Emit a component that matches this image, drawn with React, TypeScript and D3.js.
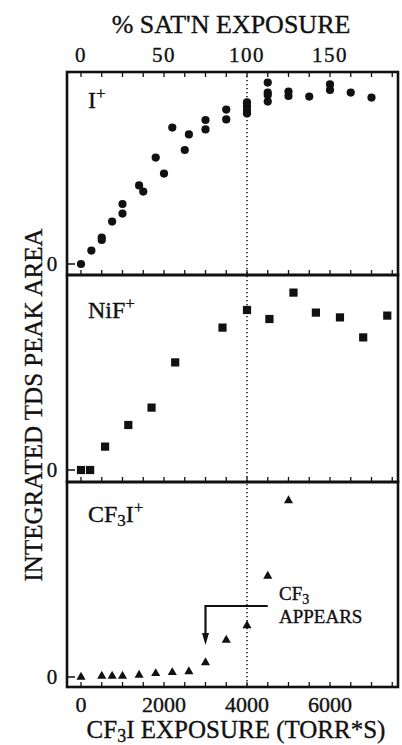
import React from "react";
import * as d3 from "d3";

// ---- Data ----
const iExposure = [0, 250, 500, 500, 750, 1000, 1000, 1400, 1500, 1800, 2000, 2200, 2500, 2600, 3000, 3000, 3500, 3500, 4000, 4000, 4000, 4000, 4500, 4500, 4500, 4500, 5000, 5000, 5500, 6000, 6000, 6500, 7000];
const iArea = [0.0, 0.67, 1.32, 1.2, 2.12, 3.0, 2.52, 3.93, 3.62, 5.32, 4.52, 6.82, 5.7, 6.48, 7.2, 6.73, 7.72, 7.23, 8.08, 7.87, 7.67, 7.53, 9.07, 8.57, 8.45, 8.12, 8.62, 8.4, 8.37, 8.98, 8.7, 8.57, 8.32];

const nifExposure = [0, 220, 580, 1140, 1700, 2270, 3410, 4000, 4540, 5120, 5660, 6240, 6800, 7380];
const nifArea = [0, 0, 1.17, 2.25, 3.12, 5.38, 7.12, 8.0, 7.55, 8.87, 7.87, 7.63, 6.63, 7.72];

const cf3iExposure = [0, 500, 750, 1000, 1400, 1800, 2200, 2600, 3000, 3500, 4000, 4500, 5000];
const cf3iArea = [0.0, 0.05, 0.05, 0.05, 0.1, 0.18, 0.23, 0.27, 0.72, 1.85, 2.57, 5.05, 8.82];

const bottomTickLabels = [0, 2000, 4000, 6000];
const topTickLabels = [0, 50, 100, 150];
const minorTicks = d3.range(0, 7501, 500);
const saturationExposure = 4000; // 100 % saturation
const annotation = { x0: 3000, x1: 4500, y: 3.55, tipY: 1.6, textX: 4770 };

const FONT = "'Liberation Serif', 'Times New Roman', 'DejaVu Serif', serif";

const W = 402, H = 745;
const left = 67, right = 398;
const panels = [
  { top: 72, bottom: 275, zero: 264, label: "I", sub: "", after: "", marker: "circle", xs: iExposure, ys: iArea, labelY: 108 },
  { top: 275, bottom: 482, zero: 470, label: "NiF", sub: "", after: "", marker: "square", xs: nifExposure, ys: nifArea, labelY: 318 },
  { top: 482, bottom: 687, zero: 677, label: "CF", sub: "3", after: "I", marker: "triangle", xs: cf3iExposure, ys: cf3iArea, labelY: 522 },
];

export default function App() {
  const x = d3.scaleLinear().domain([0, 4000]).range([81, 247]);
  const xTop = d3.scaleLinear().domain([0, 100]).range([81, 247]);
  const tri = d3.symbol(d3.symbolTriangle, 36)();
  const txt = { fill: "#111", stroke: "#111", strokeWidth: 0.35 } as const;

  return (
    <svg width={W} height={H} style={{ position: "absolute", left: 0, top: 0, background: "#fff", fontFamily: FONT }}>
      <rect x={0} y={0} width={W} height={H} fill="#fff" />
      {/* top axis title */}
      <text x={231} y={33} fontSize={26} textAnchor="middle" {...txt}>% SAT'N EXPOSURE</text>
      {topTickLabels.map((t) => (
        <text key={"tt" + t} x={xTop(t)} y={62} fontSize={21} textAnchor="middle" letterSpacing={1.5} {...txt}>{t}</text>
      ))}
      {/* y title */}
      <text transform={`translate(42,405) rotate(-90)`} fontSize={25} textAnchor="middle" {...txt}>INTEGRATED TDS PEAK AREA</text>

      {/* dotted line at 100% saturation */}
      <line x1={x(saturationExposure)} x2={x(saturationExposure)} y1={72} y2={688} stroke="#111" strokeWidth={1.5} strokeDasharray="1.3,2.7" />

      {panels.map((p, pi) => {
        const y = d3.scaleLinear().domain([0, 10]).range([p.zero, p.zero - 200]);
        return (
          <g key={pi}>
            {minorTicks.map((t) => (
              <line key={"b" + t} x1={x(t)} x2={x(t)} y1={p.bottom} y2={p.bottom - 5} stroke="#111" strokeWidth={1.3} />
            ))}
            {pi === 0 && minorTicks.map((t) => (
              <line key={"t" + t} x1={x(t)} x2={x(t)} y1={p.top} y2={p.top + 5} stroke="#111" strokeWidth={1.3} />
            ))}
            <line x1={left} x2={left + 8} y1={y(0)} y2={y(0)} stroke="#111" strokeWidth={1.5} />
            <text x={52} y={y(0) + 7} fontSize={21} textAnchor="middle" {...txt}>0</text>
            <text x={88} y={p.labelY} fontSize={24} {...txt}>
              {p.label}
              {p.sub && <tspan fontSize={17} dy={4}>{p.sub}</tspan>}
              {p.after && <tspan fontSize={24} dy={p.sub ? -4 : 0}>{p.after}</tspan>}
              <tspan fontSize={17} dy={-9}>+</tspan>
            </text>
            {p.xs.map((xv, i) => {
              const cx = x(xv), cy = y(p.ys[i]);
              if (p.marker === "circle") return <circle key={i} cx={cx} cy={cy} r={4.1} fill="#111" />;
              if (p.marker === "square") return <rect key={i} x={cx - 4.1} y={cy - 4.1} width={8.2} height={8.2} fill="#111" />;
              return <path key={i} d={tri as string} transform={`translate(${cx},${cy})`} fill="#111" />;
            })}
            <rect x={left} y={p.top} width={right - left} height={p.bottom - p.top} fill="none" stroke="#111" strokeWidth={2.6} />
          </g>
        );
      })}

      {/* annotation */}
      {(() => {
        const y3 = d3.scaleLinear().domain([0, 10]).range([677, 477]);
        const ax0 = x(annotation.x0), ax1 = x(annotation.x1), ay = y3(annotation.y), tip = y3(annotation.tipY);
        return (
          <g>
            <path d={`M${ax1},${ay} H${ax0} V${tip - 10}`} fill="none" stroke="#111" strokeWidth={2.2} />
            <path d={`M${ax0 - 3.5},${tip - 12} L${ax0 + 3.5},${tip - 12} L${ax0},${tip} Z`} fill="#111" />
            <text x={x(annotation.textX)} y={600} fontSize={19} {...txt}>CF<tspan fontSize={14} dy={4}>3</tspan></text>
            <text x={x(annotation.textX)} y={623} fontSize={19} {...txt}>APPEARS</text>
          </g>
        );
      })()}

      {/* bottom axis */}
      {bottomTickLabels.map((t) => (
        <text key={"bt" + t} x={x(t)} y={712} fontSize={22} textAnchor="middle" {...txt}>{t}</text>
      ))}
      <text x={236} y={738} fontSize={25} textAnchor="middle" {...txt}>CF<tspan fontSize={18} dy={4}>3</tspan><tspan dy={-4}>I EXPOSURE (TORR*S)</tspan></text>
    </svg>
  );
}
